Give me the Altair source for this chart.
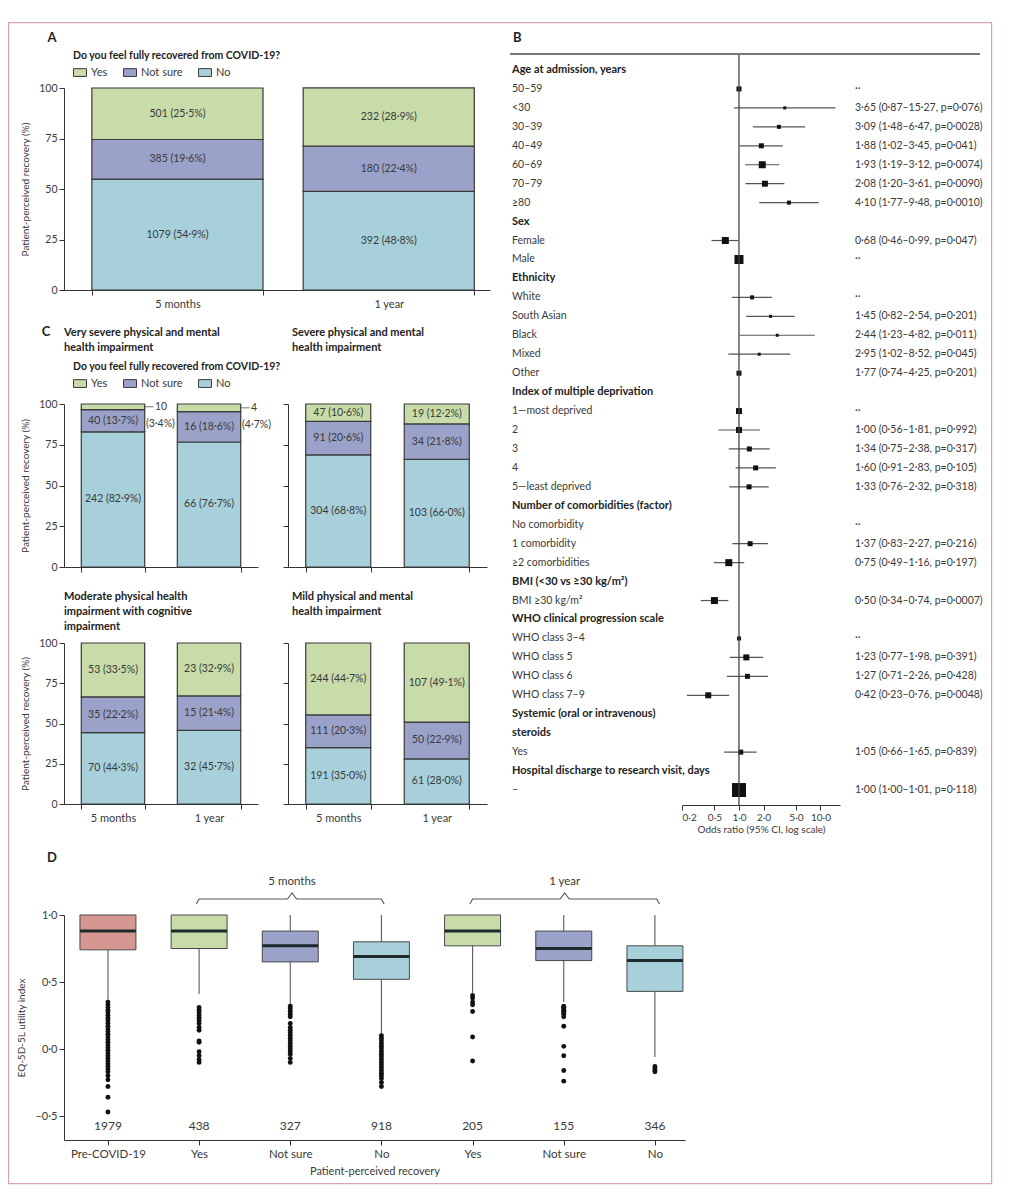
import altair as alt
import pandas as pd

FONT = "Lato"
INK = "#3a3a3a"
DARK = "#222222"
AXIS = "#333333"
BORDER = "#d6a5ae"
BAR_STROKE = "#3a3a3a"

ANSWERS = ["Yes", "Not sure", "No"]
ANSWER_COLORS = ["#c7dca8", "#9ba2c9", "#a7d0da"]
TIMES = ["5 months", "1 year"]
LEGEND_TITLE = "Do you feel fully recovered from COVID-19?"

# ---------------- Panel A (Yes, Not sure, No) ----------------
a_5m_n = [501, 385, 1079]
a_5m_pct = [25.5, 19.6, 54.9]
a_1y_n = [232, 180, 392]
a_1y_pct = [28.9, 22.4, 48.8]

# ---------------- Panel C (Yes, Not sure, No) ----------------
vsev_5m_n = [10, 40, 242]
vsev_5m_pct = [3.4, 13.7, 82.9]
vsev_1y_n = [4, 16, 66]
vsev_1y_pct = [4.7, 18.6, 76.7]
sev_5m_n = [47, 91, 304]
sev_5m_pct = [10.6, 20.6, 68.8]
sev_1y_n = [19, 34, 103]
sev_1y_pct = [12.2, 21.8, 66.0]
mod_5m_n = [53, 35, 70]
mod_5m_pct = [33.5, 22.2, 44.3]
mod_1y_n = [23, 15, 32]
mod_1y_pct = [32.9, 21.4, 45.7]
mild_5m_n = [244, 111, 191]
mild_5m_pct = [44.7, 20.3, 35.0]
mild_1y_n = [107, 50, 61]
mild_1y_pct = [49.1, 22.9, 28.0]

# ---------------- Panel B ----------------
b_labels = ["Age at admission, years", "50–59", "<30", "30–39", "40–49", "60–69", "70–79", "≥80",
            "Sex", "Female", "Male",
            "Ethnicity", "White", "South Asian", "Black", "Mixed", "Other",
            "Index of multiple deprivation", "1—most deprived", "2", "3", "4", "5—least deprived",
            "Number of comorbidities (factor)", "No comorbidity", "1 comorbidity", "≥2 comorbidities",
            "BMI (<30 vs ≥30 kg/m²)", "BMI ≥30 kg/m²",
            "WHO clinical progression scale", "WHO class 3–4", "WHO class 5", "WHO class 6", "WHO class 7–9",
            "Systemic (oral or intravenous)", "steroids", "Yes",
            "Hospital discharge to research visit, days", "–"]
b_bold_rows = [0, 8, 11, 17, 23, 27, 29, 34, 35, 37]
b_est = [None, 1.0, 3.65, 3.09, 1.88, 1.93, 2.08, 4.10,
         None, 0.68, 1.0,
         None, 1.45, 2.44, 2.95, 1.77, 1.0,
         None, 1.0, 1.00, 1.34, 1.60, 1.33,
         None, None, 1.37, 0.75,
         None, 0.50,
         None, 1.0, 1.23, 1.27, 0.42,
         None, None, 1.05,
         None, 1.00]
b_lo = [None, None, 0.87, 1.48, 1.02, 1.19, 1.20, 1.77,
        None, 0.46, None,
        None, 0.82, 1.23, 1.02, 0.74, None,
        None, None, 0.56, 0.75, 0.91, 0.76,
        None, None, 0.83, 0.49,
        None, 0.34,
        None, None, 0.77, 0.71, 0.23,
        None, None, 0.66,
        None, 1.00]
b_hi = [None, None, 15.27, 6.47, 3.45, 3.12, 3.61, 9.48,
        None, 0.99, None,
        None, 2.54, 4.82, 8.52, 4.25, None,
        None, None, 1.81, 2.38, 2.83, 2.32,
        None, None, 2.27, 1.16,
        None, 0.74,
        None, None, 1.98, 2.26, 0.76,
        None, None, 1.65,
        None, 1.01]
b_marker = [0, 5, 3, 4, 5, 7, 6, 4,
            0, 7, 9,
            0, 4, 3, 3, 3, 5,
            0, 6, 6, 5, 5, 5,
            0, 0, 5, 7,
            0, 7,
            0, 4, 6, 5, 6,
            0, 0, 5,
            0, 14]
b_text = ["", "··", "3·65 (0·87–15·27, p=0·076)", "3·09 (1·48–6·47, p=0·0028)", "1·88 (1·02–3·45, p=0·041)",
          "1·93 (1·19–3·12, p=0·0074)", "2·08 (1·20–3·61, p=0·0090)", "4·10 (1·77–9·48, p=0·0010)",
          "", "0·68 (0·46–0·99, p=0·047)", "··",
          "", "··", "1·45 (0·82–2·54, p=0·201)", "2·44 (1·23–4·82, p=0·011)", "2·95 (1·02–8·52, p=0·045)",
          "1·77 (0·74–4·25, p=0·201)",
          "", "··", "1·00 (0·56–1·81, p=0·992)", "1·34 (0·75–2·38, p=0·317)", "1·60 (0·91–2·83, p=0·105)",
          "1·33 (0·76–2·32, p=0·318)",
          "", "··", "1·37 (0·83–2·27, p=0·216)", "0·75 (0·49–1·16, p=0·197)",
          "", "0·50 (0·34–0·74, p=0·0007)",
          "", "··", "1·23 (0·77–1·98, p=0·391)", "1·27 (0·71–2·26, p=0·428)", "0·42 (0·23–0·76, p=0·0048)",
          "", "", "1·05 (0·66–1·65, p=0·839)",
          "", "1·00 (1·00–1·01, p=0·118)"]
b_ticks = [0.2, 0.5, 1.0, 2.0, 5.0, 10.0]

# ---------------- Panel D ----------------
d_groups = ["Pre-COVID-19", "Yes", "Not sure", "No", "Yes", "Not sure", "No"]
d_n = [1979, 438, 327, 918, 205, 155, 346]
d_q1 = [0.74, 0.75, 0.65, 0.52, 0.77, 0.66, 0.43]
d_med = [0.88, 0.88, 0.77, 0.69, 0.88, 0.75, 0.66]
d_q3 = [1.0, 1.0, 0.88, 0.80, 1.0, 0.88, 0.77]
d_wlo = [0.36, 0.41, 0.33, 0.11, 0.42, 0.35, -0.06]
d_whi = [1.0, 1.0, 1.0, 1.0, 1.0, 1.0, 1.0]
d_fill = ["#d69692", "#c7dca8", "#9ba2c9", "#a7d0da", "#c7dca8", "#9ba2c9", "#a7d0da"]
d_out_pre = [0.35, 0.33, 0.31, 0.29, 0.27, 0.25, 0.23, 0.21, 0.19, 0.17, 0.15, 0.13, 0.11, 0.09, 0.07,
             0.05, 0.03, 0.01, -0.01, -0.03, -0.05, -0.07, -0.09, -0.11, -0.13, -0.15, -0.17, -0.20,
             -0.23, -0.28, -0.36, -0.47]
d_out_yes5 = [0.31, 0.29, 0.27, 0.25, 0.23, 0.21, 0.19, 0.16, 0.14, 0.06, 0.05, -0.02, -0.05, -0.08, -0.10]
d_out_ns5 = [0.32, 0.30, 0.28, 0.26, 0.24, 0.19, 0.16, 0.14, 0.12, 0.10, 0.08, 0.06, 0.04, 0.02, 0.00,
             -0.02, -0.04, -0.07, -0.10]
d_out_no5 = [0.10, 0.08, 0.06, 0.04, 0.02, 0.00, -0.02, -0.04, -0.06, -0.08, -0.10, -0.12, -0.14, -0.16,
             -0.18, -0.20, -0.22, -0.25, -0.28]
d_out_yes1 = [0.40, 0.38, 0.35, 0.33, 0.28, 0.09, -0.09]
d_out_ns1 = [0.32, 0.31, 0.30, 0.29, 0.28, 0.27, 0.26, 0.24, 0.17, 0.02, -0.05, -0.16, -0.24]
d_out_no1 = [-0.13, -0.145, -0.16, -0.17]
brace_5m_x = [0.97, 1.0, 1.97, 2.02, 2.07, 3.0, 3.03]
brace_1y_x = [3.97, 4.0, 4.96, 5.01, 5.06, 6.02, 6.05]
brace_y = [1.082, 1.119, 1.119, 1.164, 1.119, 1.119, 1.082]
brace_labels = ["5 months", "1 year"]
brace_label_x = [2.02, 5.01]
brace_label_y = 1.246

ONE = alt.Data(values=[{"k": 0}])
BW = 1.2  # border thickness


def fmt(v):
    return f"{v:.1f}".replace(".", "·")


def frame(x0, x1, y0, y1):
    return alt.Chart(ONE).mark_rect(opacity=0).encode(
        x=alt.value(x0), x2=alt.value(x1), y=alt.value(y0), y2=alt.value(y1))


def vseg(x, y0, y1):
    return alt.Chart(ONE).mark_rect(color=BORDER, strokeWidth=0).encode(
        x=alt.value(x), x2=alt.value(x + BW), y=alt.value(y0), y2=alt.value(y1))


def hseg(x0, x1, y):
    return alt.Chart(ONE).mark_rect(color=BORDER, strokeWidth=0).encode(
        x=alt.value(x0), x2=alt.value(x1), y=alt.value(y), y2=alt.value(y + BW))


def note(txt, x, y, **kw):
    props = dict(align="left", baseline="middle", fontSize=11, color=DARK, fontWeight="bold")
    props.update(kw)
    return alt.Chart(ONE).mark_text(text=txt, **props).encode(x=alt.value(x), y=alt.value(y))


def stack_frame(n5, p5, n1, p1, outside=()):
    rows = []
    for t, ns, ps in ((TIMES[0], n5, p5), (TIMES[1], n1, p1)):
        base = 0.0
        for ans in ["No", "Not sure", "Yes"]:
            i = ANSWERS.index(ans)
            p = ps[i]
            rows.append({"time": t, "ans": ans, "n": str(ns[i]), "y0": base, "y1": base + p,
                         "mid": base + p / 2, "label": f"{ns[i]} ({fmt(p)}%)",
                         "plabel": f"({fmt(p)}%)", "inside": ans not in outside})
            base += p
    return pd.DataFrame(rows)


def legend_at(lx, ly):
    return alt.Legend(title=LEGEND_TITLE, orient="none", legendX=lx, legendY=ly, direction="horizontal",
                      symbolType="M-1,-0.6H1V0.6H-1Z", symbolSize=169, symbolStrokeColor=BAR_STROKE,
                      symbolStrokeWidth=1, titleFontWeight="bold", titleFontSize=10.5, titleColor=DARK,
                      titleLimit=400, labelFontSize=11, labelColor=INK, columnPadding=13, labelOffset=4,
                      titlePadding=4)


def stacked_panel(df, box, ylabels, xlabels, legend, extras_fn=None,
                  pad_in=0.34, pad_out=0.18, align=0.5):
    sc_x = alt.Scale(domain=TIMES, paddingInner=pad_in, paddingOuter=pad_out, align=align)
    ax_x = alt.Axis(title=None, labels=xlabels, labelAngle=0, tickBand="extent", tickSize=5,
                    labelPadding=3, labelFontSize=11)
    sc_y = alt.Scale(domain=[0, 100], nice=False)
    if ylabels:
        ax_y = alt.Axis(values=[0, 25, 50, 75, 100], title="Patient-perceived recovery (%)", tickSize=5,
                        titlePadding=8, labelPadding=2)
    else:
        ax_y = alt.Axis(values=[0, 25, 50, 75, 100], labels=False, title=None, tickSize=5)

    def X():
        return alt.X("time:N", scale=sc_x, axis=ax_x, sort=TIMES)

    def Y(f):
        return alt.Y(f, scale=sc_y, axis=ax_y)

    base = alt.Chart(df)
    bars = base.mark_bar(stroke=BAR_STROKE, strokeWidth=1.2).encode(
        x=X(), y=Y("y0:Q"), y2="y1:Q",
        color=alt.Color("ans:N", scale=alt.Scale(domain=ANSWERS, range=ANSWER_COLORS), legend=legend))
    labels = base.transform_filter("datum.inside").mark_text(fontSize=10.5, color=INK).encode(
        x=X(), y=Y("mid:Q"), text="label:N")
    layers = [frame(*box), bars, labels]
    if extras_fn is not None:
        layers += extras_fn(base, X, Y)
    return layers


# ---------------- Panel A ----------------
a_df = stack_frame(a_5m_n, a_5m_pct, a_1y_n, a_1y_pct)
panel_a = alt.layer(
    *stacked_panel(a_df, (-56, 436, -80, 227), True, True, legend_at(9, -37),
                   pad_in=0.19, pad_out=0.103, align=0.64),
    vseg(-56, -66, 227), hseg(-56, 436, -66),
    note("A", -12, -50, align="center", fontSize=13),
).properties(width=426, height=202)

# ---------------- Panel C ----------------
vsev_df = stack_frame(vsev_5m_n, vsev_5m_pct, vsev_1y_n, vsev_1y_pct, outside=("Yes",))


def vsev_extras(base, X, Y):
    ann = base.transform_filter("!datum.inside")
    lead = ann.mark_tick(xOffset=36, size=9, thickness=1, color=INK).encode(x=X(), y=Y("mid:Q"))
    ntxt = ann.mark_text(align="left", dx=42, fontSize=10.5, color=INK).encode(x=X(), y=Y("mid:Q"), text="n:N")
    ptxt = ann.mark_text(align="left", dx=33, dy=17, fontSize=10.5, color=INK).encode(
        x=X(), y=Y("mid:Q"), text="plabel:N")
    return [lead, ntxt, ptxt]


c_tl = alt.layer(
    *stacked_panel(vsev_df, (-56, 217, -89, 178), True, False, legend_at(9, -42), vsev_extras),
    vseg(-56, -89, 178),
    note("C", -18, -72, align="center", fontSize=13),
    note("Very severe physical and mental", 0, -71),
    note("health impairment", 0, -56),
).properties(width=194, height=163)

sev_df = stack_frame(sev_5m_n, sev_5m_pct, sev_1y_n, sev_1y_pct)
c_tr = alt.layer(
    *stacked_panel(sev_df, (-7, 212, -89, 178), False, False, None),
    note("Severe physical and mental", 4, -71),
    note("health impairment", 4, -56),
).properties(width=199, height=163)

mod_df = stack_frame(mod_5m_n, mod_5m_pct, mod_1y_n, mod_1y_pct)
c_bl = alt.layer(
    *stacked_panel(mod_df, (-56, 217, -61, 197), True, True, None),
    vseg(-56, -61, 197),
    note("Moderate physical health", 0, -46),
    note("impairment with cognitive", 0, -31),
    note("impairment", 0, -16),
).properties(width=194, height=161)

mild_df = stack_frame(mild_5m_n, mild_5m_pct, mild_1y_n, mild_1y_pct)
c_br = alt.layer(
    *stacked_panel(mild_df, (-7, 212, -61, 197), False, True, None),
    note("Mild physical  and mental", 4, -46),
    note("health impairment", 4, -31),
).properties(width=199, height=161)

# ---------------- Panel B ----------------
# origin of this view sits level with panel A's plot top; rows start above it
B_W, B_H, B_TOP = 480, 717, -34
b_df = pd.DataFrame({
    "idx": list(range(len(b_labels))),
    "label": b_labels,
    "bold": [i in b_bold_rows for i in range(len(b_labels))],
    "est": b_est, "lo": b_lo, "hi": b_hi,
    "sq": [m * m for m in b_marker],
    "txt": b_text,
})
b_sc_x = alt.Scale(type="log", domain=[0.2, 17.35], range=[174, 332], nice=False)
b_ax_x = alt.Axis(values=b_ticks, labelExpr="replace(format(datum.value, '.1f'), '.', '·')",
                  title="Odds ratio (95% CI, log scale)", tickSize=5, labelPadding=2, titlePadding=2,
                  labelFontSize=10, titleFontSize=10)
b_y = alt.Y("idx:Q", scale=alt.Scale(domain=[-0.844, 38.79], range=[B_TOP, B_H], nice=False, zero=False),
            axis=None)
b_base = alt.Chart(b_df)

b_ci = b_base.transform_filter("isValid(datum.lo)").mark_rule(color="#555555", strokeWidth=1.2).encode(
    x=alt.X("lo:Q", scale=b_sc_x, axis=b_ax_x), x2="hi:Q", y=b_y)
b_pts = b_base.transform_filter("isValid(datum.est)").mark_square(color="#111111", opacity=1).encode(
    x=alt.X("est:Q", scale=b_sc_x, axis=b_ax_x), y=b_y, size=alt.Size("sq:Q", scale=None))
b_vline = alt.Chart(ONE).mark_rule(color="#444444", strokeWidth=1.3).encode(
    x=alt.datum(1.0), y=alt.value(B_TOP), y2=alt.value(B_H))
b_top = alt.Chart(ONE).mark_rule(color="#777777", strokeWidth=2).encode(
    x=alt.value(2), x2=alt.value(472), y=alt.value(B_TOP))
b_lab = b_base.transform_filter("!datum.bold").mark_text(align="left", fontSize=10.5, color=INK).encode(
    x=alt.value(4), y=b_y, text="label:N")
b_lab_bold = b_base.transform_filter("datum.bold").mark_text(
    align="left", fontSize=11, color=DARK, fontWeight="bold").encode(x=alt.value(4), y=b_y, text="label:N")
b_val = b_base.mark_text(align="left", fontSize=10.5, color=INK).encode(x=alt.value(347), y=b_y, text="txt:N")

panel_b = alt.layer(
    frame(-8, 492, -80, 752),
    b_ci, b_pts, b_vline, b_top, b_lab, b_lab_bold, b_val,
    hseg(-8, 484, -66), vseg(483, -66, 752),
    note("B", 5, -50, fontSize=13),
).properties(width=B_W, height=B_H)

# ---------------- Panel D ----------------
D_W, D_H = 621, 270
HALF = 0.307
pos = list(range(len(d_groups)))
d_df = pd.DataFrame({
    "pos": pos, "group": d_groups, "n": [str(v) for v in d_n],
    "q1": d_q1, "med": d_med, "q3": d_q3, "wlo": d_wlo, "whi": d_whi, "fill": d_fill,
    "xl": [p - HALF for p in pos], "xr": [p + HALF for p in pos],
})
outs = [d_out_pre, d_out_yes5, d_out_ns5, d_out_no5, d_out_yes1, d_out_ns1, d_out_no1]
o_df = pd.DataFrame([{"pos": i, "val": v} for i, lst in enumerate(outs) for v in lst])
br_rows = []
for g, bx in enumerate([brace_5m_x, brace_1y_x]):
    for k, (xx, yy) in enumerate(zip(bx, brace_y)):
        br_rows.append({"g": g, "k": k, "bx": xx, "by": yy})
br_df = pd.DataFrame(br_rows)
brl_df = pd.DataFrame({"bx": brace_label_x, "label": brace_labels})

group_js = "[" + ",".join(f"'{g}'" for g in d_groups) + "]"
d_sc_x = alt.Scale(domain=[-0.482, 6.33], nice=False, zero=False)
d_ax_x = alt.Axis(values=pos, labelExpr=f"{group_js}[datum.value]", title="Patient-perceived recovery",
                  labelFontSize=11.5, titleFontSize=11, tickSize=5, labelPadding=3, titlePadding=6)
d_sc_y = alt.Scale(domain=[-0.679, 1.0], range=[D_H, 45], nice=False, zero=False)
d_ax_y = alt.Axis(values=[-0.5, 0.0, 0.5, 1.0], labelExpr="replace(format(datum.value, '.1f'), '.', '·')",
                  title="EQ-5D-5L utility index", labelFontSize=11, tickSize=5,
                  titleFontSize=10, titlePadding=8, labelPadding=2)


def DX(f):
    return alt.X(f, scale=d_sc_x, axis=d_ax_x)


def DY(f):
    return alt.Y(f, scale=d_sc_y, axis=d_ax_y)


d_base = alt.Chart(d_df)
d_wlow = d_base.mark_rule(color="#5a5a5a", strokeWidth=1.1).encode(x=DX("pos:Q"), y=DY("wlo:Q"), y2="q1:Q")
d_whigh = d_base.transform_filter("datum.whi > datum.q3").mark_rule(color="#5a5a5a", strokeWidth=1.1).encode(
    x=DX("pos:Q"), y=DY("q3:Q"), y2="whi:Q")
d_box = d_base.mark_bar(stroke="#4a4a4a", strokeWidth=1).encode(
    x=DX("xl:Q"), x2="xr:Q", y=DY("q1:Q"), y2="q3:Q", color=alt.Color("fill:N", scale=None))
d_medl = d_base.mark_rule(color="#1c2a2a", strokeWidth=3).encode(x=DX("xl:Q"), x2="xr:Q", y=DY("med:Q"))
d_out = alt.Chart(o_df).mark_circle(size=24, color="#111111", opacity=1).encode(x=DX("pos:Q"), y=DY("val:Q"))
d_ntxt = d_base.mark_text(fontSize=12, color=INK).encode(
    x=DX("pos:Q"), y=alt.datum(-0.575), text="n:N")
d_brace = alt.Chart(br_df).mark_line(color="#555555", strokeWidth=1.1).encode(
    x=DX("bx:Q"), y=DY("by:Q"), detail="g:N", order="k:Q")
d_brl = alt.Chart(brl_df).mark_text(fontSize=11.5, color=INK).encode(
    x=DX("bx:Q"), y=alt.datum(brace_label_y), text="label:N")

panel_d = alt.layer(
    frame(-56, 936, -30, 320),
    d_wlow, d_whigh, d_box, d_medl, d_out, d_ntxt, d_brace, d_brl,
    vseg(-56, -30, 314), hseg(-56, 928.2, 313), vseg(927, -30, 314),
    note("D", -12, -12, align="center", fontSize=13),
).properties(width=D_W, height=D_H)

# ---------------- Layout ----------------
c_row1 = alt.hconcat(c_tl, c_tr, spacing=0).resolve_scale(color="independent")
c_row2 = alt.hconcat(c_bl, c_br, spacing=0).resolve_scale(color="independent")
left_col = alt.vconcat(panel_a, c_row1, c_row2, spacing=0).resolve_scale(color="independent")
top_row = alt.hconcat(left_col, panel_b, spacing=0).resolve_scale(color="independent")
chart = alt.vconcat(top_row, panel_d, spacing=0).resolve_scale(color="independent").properties(padding=0)

chart = chart.configure(font=FONT).configure_view(strokeWidth=0).configure_axis(
    labelFont=FONT, titleFont=FONT, labelColor=INK, titleColor=INK, domainColor=AXIS, tickColor=AXIS,
    grid=False, labelFontSize=10.5, titleFontSize=10, titleFontWeight="normal", domainWidth=1, tickWidth=1,
).configure_legend(labelFont=FONT, titleFont=FONT)

chart.save("out.html", embed_options={"renderer": "svg", "actions": False})
